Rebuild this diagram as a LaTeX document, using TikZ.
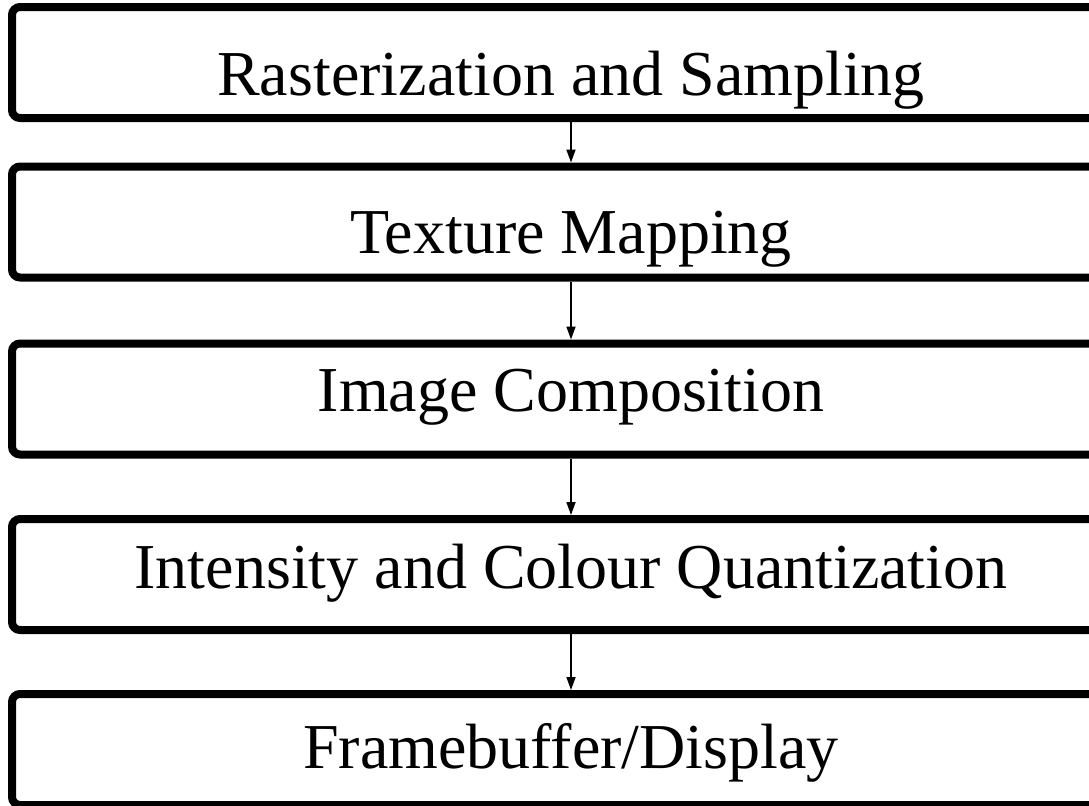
\documentclass[tikz,border=0pt]{standalone}
\usepackage{fontspec}
\setmainfont{Liberation Serif}
\usetikzlibrary{arrows.meta}
\tikzset{
  stage/.style={draw, line width=4pt, rounded corners=4pt, minimum width=559pt,
    minimum height=55.5pt, inner sep=0pt, font=\fontsize{32}{36}\selectfont,
    text depth=0pt, text height=13.5pt}
}
\begin{document}
\begin{tikzpicture}[x=0.5pt,y=-0.5pt]
      \useasboundingbox (0,0) rectangle (1089,805);
      \clip (0,0) rectangle (1089,805);
      \draw
        (571,62.5) node[stage, text height=33pt] (0){Rasterization and Sampling}
        (571,222) node[stage, text height=31pt] (1){Texture Mapping}
        (571,399) node[stage, text height=12pt] (2){Image Composition}
        (571,574.5) node[stage] (3){Intensity and Colour Quantization}
        (571,749.5) node[stage, text height=18.5pt] (4){Framebuffer/Display};
      \begin{scope}[-{Triangle[width=4.5pt,length=6.5pt]}, line width=0.85pt]
        \draw (0) to (1);
        \draw (1) to (2);
        \draw (2) to (3);
        \draw (3) to (4);
      \end{scope}
    \end{tikzpicture}
\end{document}
